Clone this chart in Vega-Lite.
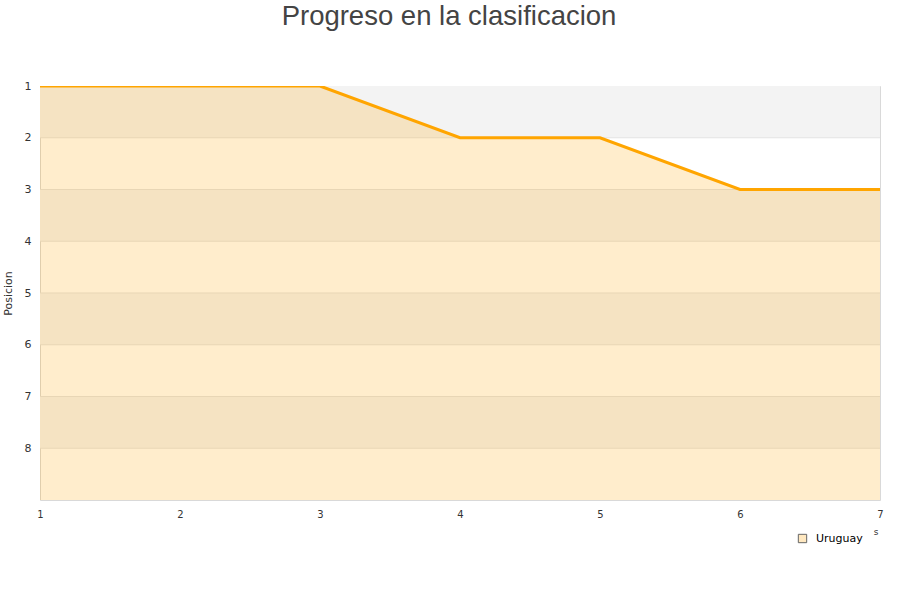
{
  "$schema": "https://vega.github.io/schema/vega-lite/v6.json",
  "autosize": {"type": "none"},
  "width": 840,
  "height": 414,
  "padding": {"left": 40, "top": 86, "right": 20, "bottom": 100},
  "background": "white",
  "title": {
    "text": "Progreso en la clasificacion",
    "fontSize": 27.5,
    "font": "Liberation Sans",
    "fontWeight": "normal",
    "color": "#444444",
    "anchor": "middle",
    "frame": "group",
    "dx": -11,
    "offset": 50
  },
  "config": {
    "view": {"stroke": "#d9d9d9"},
    "font": "DejaVu Sans"
  },
  "datasets": {
    "progreso": [
      {"jornada": 1, "posicion": 1, "equipo": "Uruguay"},
      {"jornada": 2, "posicion": 1, "equipo": "Uruguay"},
      {"jornada": 3, "posicion": 1, "equipo": "Uruguay"},
      {"jornada": 4, "posicion": 2, "equipo": "Uruguay"},
      {"jornada": 5, "posicion": 2, "equipo": "Uruguay"},
      {"jornada": 6, "posicion": 3, "equipo": "Uruguay"},
      {"jornada": 7, "posicion": 3, "equipo": "Uruguay"}
    ],
    "bandas": [
      {"desde": 1, "hasta": 2},
      {"desde": 3, "hasta": 4},
      {"desde": 5, "hasta": 6},
      {"desde": 7, "hasta": 8}
    ],
    "lineas": [
      {"pos": 2}, {"pos": 3}, {"pos": 4}, {"pos": 5}, {"pos": 6}, {"pos": 7}, {"pos": 8}
    ]
  },
  "layer": [
    {
      "data": {"name": "bandas"},
      "mark": {"type": "rect", "fill": "#f3f3f3"},
      "encoding": {
        "y": {"field": "desde", "type": "quantitative", "scale": {"domain": [1, 9], "reverse": true}},
        "y2": {"field": "hasta"}
      }
    },
    {
      "data": {"name": "lineas"},
      "mark": {"type": "rule", "stroke": "#e3e3e3", "strokeWidth": 1},
      "encoding": {
        "y": {"field": "pos", "type": "quantitative"}
      }
    },
    {
      "data": {"name": "progreso"},
      "mark": {"type": "area", "fill": "#ffa500", "fillOpacity": 0.2, "clip": true},
      "encoding": {
        "x": {"field": "jornada", "type": "quantitative"},
        "y": {"field": "posicion", "type": "quantitative"},
        "y2": {"datum": 9}
      }
    },
    {
      "data": {"name": "progreso"},
      "mark": {"type": "point", "shape": "square", "filled": true, "fillOpacity": 0, "strokeOpacity": 0, "strokeWidth": 0, "clip": true},
      "encoding": {
        "x": {"field": "jornada", "type": "quantitative"},
        "y": {"field": "posicion", "type": "quantitative"},
        "fill": {
          "field": "equipo",
          "type": "nominal",
          "scale": {"range": ["#ffe8c0"]},
          "legend": {
            "title": null,
            "orient": "none",
            "legendX": 757,
            "legendY": 447,
            "symbolType": "square",
            "symbolSize": 70,
            "symbolOpacity": 1,
            "symbolStrokeColor": "#666666",
            "symbolStrokeWidth": 1,
            "labelOffset": 8,
            "labelFontSize": 11,
            "labelColor": "#000000",
            "encode": {
              "symbols": {
                "update": {
                  "fillOpacity": {"value": 1},
                  "strokeOpacity": {"value": 1},
                  "opacity": {"value": 1},
                  "stroke": {"value": "#666666"},
                  "strokeWidth": {"value": 1}
                }
              }
            }
          }
        }
      }
    },
    {
      "data": {"name": "progreso"},
      "mark": {"type": "line", "color": "#ffa500", "strokeWidth": 3, "clip": true},
      "encoding": {
        "x": {
          "field": "jornada",
          "type": "quantitative",
          "scale": {"domain": [1, 7], "nice": false, "zero": false},
          "axis": {
            "title": "s",
            "titleAnchor": "end",
            "titleFontSize": 9,
            "titleFontWeight": "normal",
            "titleColor": "#333333",
            "titlePadding": 8,
            "titleX": 838,
            "values": [1, 2, 3, 4, 5, 6, 7],
            "format": "d",
            "grid": false,
            "domain": false,
            "ticks": false,
            "labelFontSize": 10,
            "labelColor": "#333333",
            "labelPadding": 9,
            "labelFlush": false,
            "labelOverlap": false
          }
        },
        "y": {
          "field": "posicion",
          "type": "quantitative",
          "scale": {"domain": [1, 9], "reverse": true, "nice": false, "zero": false},
          "axis": {
            "title": "Posicion",
            "titleFontSize": 11,
            "titleFontWeight": "normal",
            "titleColor": "#333333",
            "titlePadding": 11,
            "values": [1, 2, 3, 4, 5, 6, 7, 8],
            "format": "d",
            "grid": false,
            "domain": false,
            "ticks": false,
            "labelFontSize": 11,
            "labelColor": "#333333",
            "labelPadding": 9,
            "labelFlush": false,
            "labelOverlap": false
          }
        }
      }
    }
  ]
}
